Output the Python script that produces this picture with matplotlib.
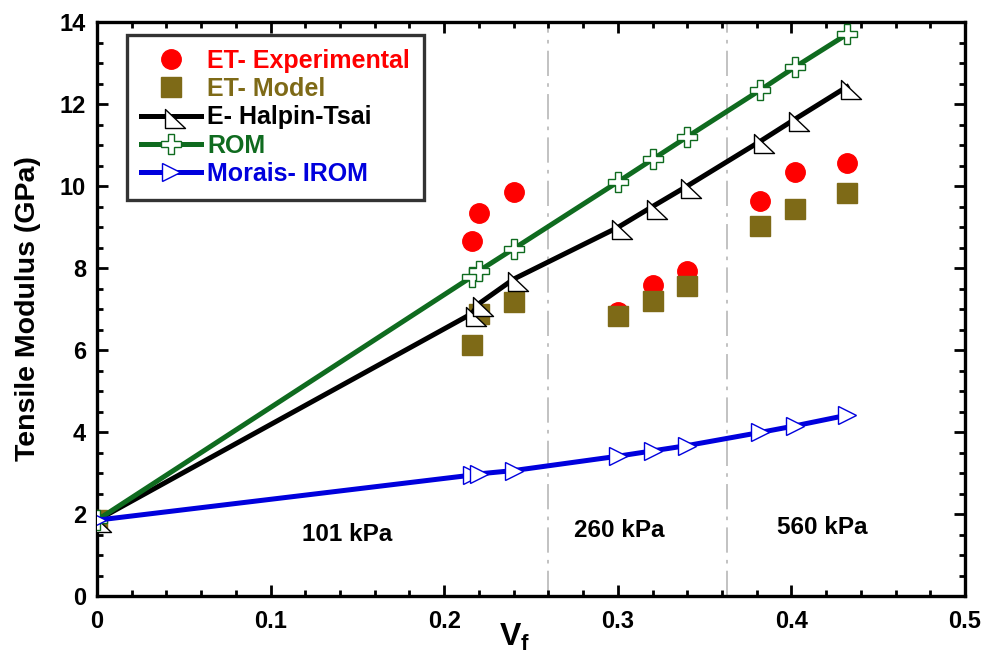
import matplotlib
matplotlib.use("Agg")
import matplotlib.pyplot as plt
from matplotlib.path import Path
from matplotlib.ticker import MultipleLocator, FormatStrFormatter

plt.rcParams['font.family'] = ['Liberation Sans', 'DejaVu Sans']
plt.rcParams['font.weight'] = 'bold'
plt.rcParams['mathtext.fontset'] = 'custom'
plt.rcParams['mathtext.bf'] = 'Liberation Sans:bold'
plt.rcParams['mathtext.rm'] = 'Liberation Sans:bold'
plt.rcParams['mathtext.it'] = 'Liberation Sans:bold'

# fibre volume fraction
vf = [0.0, 0.216, 0.220, 0.240, 0.300, 0.320, 0.340, 0.382, 0.402, 0.432]

# tensile modulus (GPa)
et_experimental = [1.85, 8.65, 9.35, 9.85, 6.93, 7.59, 7.93, 9.63, 10.34, 10.56]
et_model = [1.85, 6.12, 6.88, 7.17, 6.84, 7.20, 7.56, 9.02, 9.44, 9.83]
e_halpin_tsai = [1.85, 6.89, 7.13, 7.73, 8.99, 9.50, 10.00, 11.09, 11.63, 12.42]
e_rom = [1.85, 7.79, 7.93, 8.47, 10.10, 10.65, 11.20, 12.34, 12.90, 13.70]
e_morais_irom = [1.85, 2.95, 2.98, 3.06, 3.41, 3.54, 3.67, 3.99, 4.15, 4.41]

pressure_bounds = [0.26, 0.363]
pressure_labels = ['101 kPa', '260 kPa', '560 kPa']
pressure_label_x = [0.144, 0.301, 0.4177]
pressure_label_y = [1.49, 1.61, 1.66]

RED = '#FF0000'
OLIVE = '#7E6A17'
BLACK = '#000000'
GREEN = '#0F6B1F'
BLUE = '#0000DD'

# right-angled triangle marker (right angle at lower left)
tri_verts = [(-0.63, 0.74), (-0.63, -1.26), (1.37, -1.26), (-0.63, 0.74)]
tri_codes = [Path.MOVETO, Path.LINETO, Path.LINETO, Path.CLOSEPOLY]
right_tri = Path(tri_verts, tri_codes)

fig = plt.figure(figsize=(9.84, 6.67), dpi=100)
ax = fig.add_axes([0.0986, 0.1064, 0.8821, 0.8606])

for xb in pressure_bounds:
    ax.axvline(xb, color='#BDBDBD', lw=1.3, linestyle=(0, (14, 4, 2, 4)), zorder=1)

ax.plot(vf, et_experimental, linestyle='none', marker='o', ms=14,
        color=RED, mec=RED, zorder=3, label='ET- Experimental')
ax.plot(vf, et_model, linestyle='none', marker='s', ms=14.4,
        color=OLIVE, mec=OLIVE, zorder=4, label='ET- Model')
ax.plot(vf, e_halpin_tsai, color=BLACK, lw=3.6, marker=right_tri, ms=19.5,
        mfc='white', mec=BLACK, mew=1.0, zorder=5, label='E- Halpin-Tsai')
ax.plot(vf, e_rom, color=GREEN, lw=3.6, marker='P', ms=15,
        mfc='white', mec=GREEN, mew=1.0, zorder=6, label='ROM')
ax.plot(vf, e_morais_irom, color=BLUE, lw=3.6, marker='>', ms=13.5,
        mfc='white', mec=BLUE, mew=1.0, zorder=7, label='Morais- IROM')

for txt, xt, yt in zip(pressure_labels, pressure_label_x, pressure_label_y):
    ax.text(xt, yt, txt, ha='center', va='center', fontsize=17.5, fontweight='bold')

ax.set_xlim(0, 0.5)
ax.set_ylim(0, 14)
ax.xaxis.set_major_locator(MultipleLocator(0.1))
ax.xaxis.set_minor_locator(MultipleLocator(0.02))
ax.yaxis.set_major_locator(MultipleLocator(2))
ax.yaxis.set_minor_locator(MultipleLocator(0.5))
ax.xaxis.set_major_formatter(FormatStrFormatter('%g'))
ax.yaxis.set_major_formatter(FormatStrFormatter('%g'))
ax.tick_params(which='both', direction='in', top=True, right=True, width=2)
ax.tick_params(which='major', length=8, labelsize=17)
ax.tick_params(axis='x', which='major', pad=10)
ax.tick_params(axis='y', which='major', pad=8)
ax.tick_params(which='minor', length=4)
for lab in ax.get_xticklabels() + ax.get_yticklabels():
    lab.set_fontweight('bold')
for sp in ax.spines.values():
    sp.set_linewidth(2.4)

ax.set_ylabel('Tensile Modulus (GPa)', fontsize=20.5, fontweight='bold')
ax.yaxis.set_label_coords(-0.065, 0.5)
ax.set_xlabel(r'$\mathbf{V_f}$', fontsize=23)
ax.xaxis.set_label_coords(0.4816, -0.045)
ax.xaxis.label.set_va('top')

leg = ax.legend(loc='upper left', bbox_to_anchor=(0.0346, 0.977), fontsize=18,
                frameon=True, fancybox=False, borderpad=0.55, labelspacing=0.17,
                handlelength=2.4, handletextpad=0.25, borderaxespad=0)
leg.get_frame().set_edgecolor('black')
leg.get_frame().set_linewidth(2.4)
for txt, col in zip(leg.get_texts(), [RED, OLIVE, BLACK, GREEN, BLUE]):
    txt.set_color(col)
    txt.set_fontweight('bold')

fig.savefig('out.png', dpi=100)
